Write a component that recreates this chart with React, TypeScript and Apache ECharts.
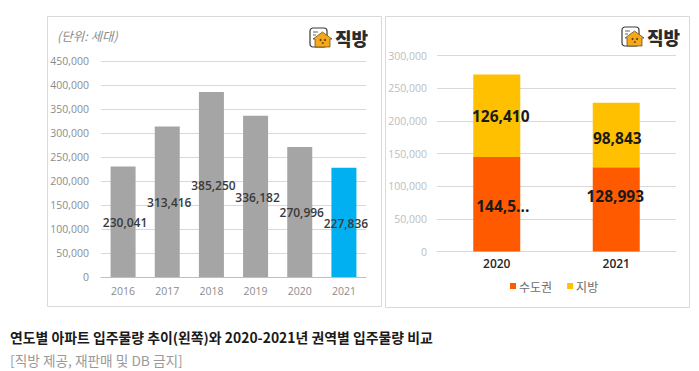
import React, { useEffect, useRef } from "react";
import * as echarts from "echarts";

const yearsLeft = ["2016", "2017", "2018", "2019", "2020", "2021"];
const totals = [230041, 313416, 385250, 336182, 270996, 227836];
const barColors = ["#A5A5A5", "#A5A5A5", "#A5A5A5", "#A5A5A5", "#A5A5A5", "#00B0F0"];
const yearsRight = ["2020", "2021"];
const capital = [144586, 128993];
const capitalLabels = ["144,5...", "128,993"];
const regional = [126410, 98843];
const regionalLabels = ["126,410", "98,843"];
const captionTitle = "연도별 아파트 입주물량 추이(왼쪽)와 2020-2021년 권역별 입주물량 비교";
const captionNote = "[직방 제공, 재판매 및 DB 금지]";
const unitText = "(단위: 세대)";
const brand = "직방";

const capitalOffsets = [[6, 2], [-1, -13]];
const regionalOffsets = [[4, 0], [1, 3]];

const LATIN = '"Open Sans","Noto Sans CJK KR",sans-serif';
const KR = '"Noto Sans CJK KR",sans-serif';

const fmt = (v: number) => v.toLocaleString("en-US");

function logo(x: number, y: number) {
  return {
    type: "group",
    x,
    y,
    silent: true,
    children: [
      { type: "rect", shape: { x: 0, y: 0, width: 17, height: 19, r: 3 }, style: { fill: "#fff", stroke: "#3a3a3a", lineWidth: 1.2 } },
      { type: "line", shape: { x1: 3, y1: 4, x2: 8, y2: 4 }, style: { stroke: "#666", lineWidth: 1 } },
      { type: "line", shape: { x1: 3, y1: 7, x2: 6, y2: 7 }, style: { stroke: "#666", lineWidth: 1 } },
      { type: "polygon", shape: { points: [[3, 11], [12.5, 4], [22, 11], [20, 11], [20, 19], [5, 19], [5, 11]] }, style: { fill: "#F5A81C", stroke: "#5a4210", lineWidth: 0.7 } },
      { type: "circle", shape: { cx: 10.5, cy: 12, r: 1 }, style: { fill: "#5a4210" } },
      { type: "circle", shape: { cx: 15, cy: 12, r: 1 }, style: { fill: "#5a4210" } },
      { type: "circle", shape: { cx: 12.8, cy: 15, r: 0.9 }, style: { fill: "#5a4210" } },
      { type: "text", x: 25, y: 9.5, style: { text: brand, fill: "#2b2b2b", font: `900 18px ${KR}`, textVerticalAlign: "middle" } },
    ],
  };
}

export default function App() {
  const ref = useRef<HTMLDivElement>(null);
  useEffect(() => {
    const chart = echarts.init(ref.current!, undefined, { renderer: "svg" });
    const gridLine = { show: true, lineStyle: { color: "#D9D9D9", width: 1 } };
    chart.setOption({
      animation: false,
      backgroundColor: "#fff",
      grid: [
        { left: 101, top: 61, width: 265, height: 216 },
        { left: 437, top: 55.5, width: 239, height: 196 },
      ],
      xAxis: [
        {
          type: "category", gridIndex: 0, data: yearsLeft,
          axisLine: { lineStyle: { color: "#BFBFBF" } }, axisTick: { show: false },
          axisLabel: { color: "#8C8C8C", fontSize: 10.5, fontFamily: LATIN, margin: 9 },
        },
        {
          type: "category", gridIndex: 1, data: yearsRight,
          axisLine: { lineStyle: { color: "#D9D9D9" } }, axisTick: { show: false },
          axisLabel: { color: "#262626", fontSize: 12, fontWeight: 600, fontFamily: LATIN, margin: 6 },
        },
      ],
      yAxis: [
        {
          type: "value", gridIndex: 0, min: 0, max: 450000, interval: 50000,
          axisLine: { show: false }, axisTick: { show: false }, splitLine: gridLine,
          axisLabel: { color: "#8C8C8C", fontSize: 10.5, fontFamily: LATIN, margin: 12, formatter: fmt },
        },
        {
          type: "value", gridIndex: 1, min: 0, max: 300000, interval: 50000,
          axisLine: { show: false }, axisTick: { show: false }, splitLine: gridLine,
          axisLabel: { color: "#BDBDBD", fontSize: 10.5, fontFamily: LATIN, margin: 10, formatter: fmt },
        },
      ],
      legend: {
        data: ["수도권", "지방"],
        left: 505, top: 275,
        itemWidth: 6, itemHeight: 6, itemGap: 15, icon: "rect",
        textStyle: { color: "#6E6E6E", fontSize: 12, fontFamily: KR, padding: [0, 0, 0, -2] },
      },
      series: [
        {
          name: "입주물량", type: "bar", xAxisIndex: 0, yAxisIndex: 0, barWidth: 25,
          data: totals.map((v, i) => ({ value: v, itemStyle: { color: barColors[i] } })),
          label: {
            show: true, position: "inside", offset: [2, 1], color: "#3a3a3a", fontSize: 12, fontWeight: 600,
            fontFamily: LATIN, formatter: (p: any) => fmt(p.value),
          },
        },
        {
          name: "수도권", type: "bar", xAxisIndex: 1, yAxisIndex: 1, stack: "a", barWidth: 47,
          itemStyle: { color: "#FF5A00" },
          data: capital.map((v, i) => ({ value: v, label: { offset: capitalOffsets[i] } })),
          label: {
            show: true, position: "inside", color: "#1a1a1a", fontSize: 15.5, fontWeight: 700,
            fontFamily: LATIN, formatter: (p: any) => capitalLabels[p.dataIndex],
          },
        },
        {
          name: "지방", type: "bar", xAxisIndex: 1, yAxisIndex: 1, stack: "a", barWidth: 47,
          itemStyle: { color: "#FFC000" },
          data: regional.map((v, i) => ({ value: v, label: { offset: regionalOffsets[i] } })),
          label: {
            show: true, position: "inside", color: "#1a1a1a", fontSize: 15.5, fontWeight: 700,
            fontFamily: LATIN, formatter: (p: any) => regionalLabels[p.dataIndex],
          },
        },
      ],
      graphic: [
        { type: "rect", z: -1, silent: true, shape: { x: 47.5, y: 16.5, width: 334, height: 290 }, style: { fill: "#fff", stroke: "#D9D9D9", lineWidth: 1 } },
        { type: "rect", z: -1, silent: true, shape: { x: 385.5, y: 16.5, width: 304, height: 291 }, style: { fill: "#fff", stroke: "#D9D9D9", lineWidth: 1 } },
        { type: "text", x: 57, y: 35, silent: true, style: { text: unitText, fill: "#8C8C8C", font: `italic 12.5px ${KR}`, textVerticalAlign: "middle" } },
        logo(310, 28),
        logo(622, 27),
        { type: "text", x: 10, y: 337, silent: true, style: { text: captionTitle, fill: "#1a1a1a", font: `600 13.9px ${KR}`, textVerticalAlign: "middle" } },
        { type: "text", x: 10, y: 359.5, silent: true, style: { text: captionNote, fill: "#9a9a9a", font: `400 13.7px ${KR}`, textVerticalAlign: "middle" } },
      ],
    });
    return () => chart.dispose();
  }, []);
  return <div ref={ref} style={{ position: "fixed", left: 0, top: 0, width: 699, height: 371, background: "#fff" }} />;
}
